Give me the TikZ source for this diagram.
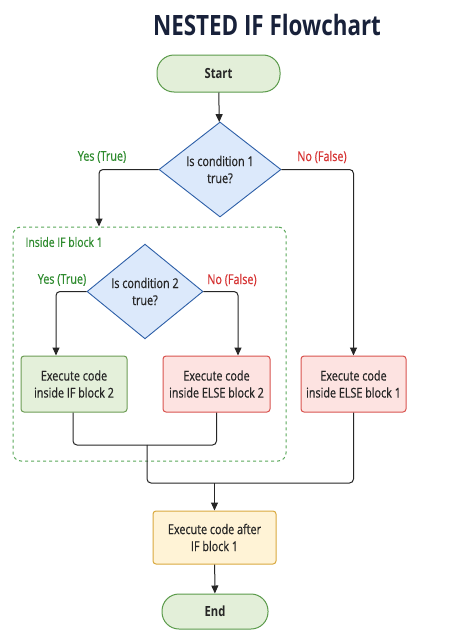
\documentclass[tikz,border=0pt]{standalone}
\usepackage{fontspec}
\setmainfont{Open Sans}[FakeStretch=0.8]
\newfontfamily\medfont{Open Sans}[FakeStretch=0.8,FakeBold=0.6]
\usetikzlibrary{arrows.meta,shapes.geometric}

\definecolor{titlecol}{HTML}{18213A}
\definecolor{termfill}{HTML}{E3EFD9}
\definecolor{termdraw}{HTML}{5B9B4B}
\definecolor{decfill}{HTML}{DCE9FB}
\definecolor{decdraw}{HTML}{2D5FA8}
\definecolor{iffill}{HTML}{E4F0DA}
\definecolor{ifdraw}{HTML}{6D9D55}
\definecolor{elsefill}{HTML}{FDE3E1}
\definecolor{elsedraw}{HTML}{D9534F}
\definecolor{afterfill}{HTML}{FFF3D6}
\definecolor{afterdraw}{HTML}{D9A93F}
\definecolor{framecol}{HTML}{5AA85A}
\definecolor{yescol}{HTML}{2E8B2E}
\definecolor{nocol}{HTML}{D63333}

\tikzset{
  term/.style={draw=termdraw,fill=termfill,line width=1pt,rounded corners=17pt,
    font=\fontsize{14}{16}\selectfont\bfseries,text=black!85},
  decision/.style={diamond,draw=decdraw,fill=decfill,line width=0.9pt,inner sep=0pt,
    align=center,font=\medfont\fontsize{13.5}{17}\selectfont,text=black!85},
  stepbox/.style={line width=1pt,rounded corners=3pt,minimum height=56pt,
    align=center,font=\medfont\fontsize{13.5}{17}\selectfont,text=black!85},
  ifbox/.style={stepbox,draw=ifdraw,fill=iffill},
  elsebox/.style={stepbox,draw=elsedraw,fill=elsefill},
  afterbox/.style={stepbox,draw=afterdraw,fill=afterfill},
  blockframe/.style={draw=framecol,dashed,line width=1pt,rounded corners=8pt},
  yeslbl/.style={text=yescol,font=\medfont\fontsize{13.5}{15}\selectfont},
  nolbl/.style={text=nocol,font=\medfont\fontsize{13.5}{15}\selectfont},
  line/.style={draw=black!85,line width=1pt,rounded corners=4pt},
  flow/.style={line,-{Triangle[length=8pt,width=7pt]}}
}

\begin{document}
\begin{tikzpicture}[x=1pt,y=-1pt]
   \useasboundingbox[fill=white] (0,0) rectangle (459,637);

   %% Titel
   \node[text=titlecol,font=\fontsize{28}{32}\selectfont\bfseries] (title) at (267,25) {NESTED IF Flowchart};

   %% Knoten
   \node[term,minimum width=123pt,minimum height=37pt] (start) at (218.5,73.5) {Start};
   \node[decision,minimum width=122pt,minimum height=95pt] (cond1) at (220,169.5) {Is condition 1\\true?};

   \node[blockframe,minimum width=273pt,minimum height=234pt] (block1) at (149.5,344) {};
   \node[anchor=west,text=yescol,font=\medfont\fontsize{13}{15}\selectfont] (block1lbl) at (22,242) {Inside IF block 1};

   \node[decision,minimum width=116pt,minimum height=93pt] (cond2) at (145,291.5) {Is condition 2\\true?};

   \node[ifbox,minimum width=106pt] (if2) at (74,384) {Execute code\\inside IF block 2};
   \node[elsebox,minimum width=107pt] (else2) at (216.5,384) {Execute code\\inside ELSE block 2};
   \node[elsebox,minimum width=105pt] (else1) at (353.5,384) {Execute code\\inside ELSE block 1};

   \node[afterbox,minimum width=123pt,minimum height=53pt] (after) at (214.5,537.5) {Execute code after\\IF block 1};
   \node[term,minimum width=106pt,minimum height=35pt] (end) at (215,611.5) {End};

   %% Beschriftung
   \node[yeslbl] (yes1) at (102,157) {Yes (True)};
   \node[nolbl] (no1) at (322,157) {No (False)};
   \node[yeslbl] (yes2) at (62,280) {Yes (True)};
   \node[nolbl] (no2) at (232,280) {No (False)};

   %% Verbindungen
   \draw[flow] (start) -- (cond1);
   \draw[flow] (cond1.west) -| ([xshift=-50.5pt]block1.north);
   \draw[flow] (cond1.east) -| (else1.north);
   \draw[flow] (cond2.west) -| ([xshift=-18pt]if2.north);
   \draw[flow] (cond2.east) -| ([xshift=21.5pt]else2.north);

   \coordinate (merge2) at (147,445);
   \coordinate (merge1) at (214.5,483);
   \draw[line] ([xshift=-1pt]if2.south) |- (merge2);
   \draw[line] (else2.south) |- (merge2);
   \draw[line] (merge2) |- (merge1);
   \draw[line] (else1.south) |- (merge1);
   \draw[flow] (merge1) -- (after);
   \draw[flow] (after) -- (end);
  \end{tikzpicture}
\end{document}
